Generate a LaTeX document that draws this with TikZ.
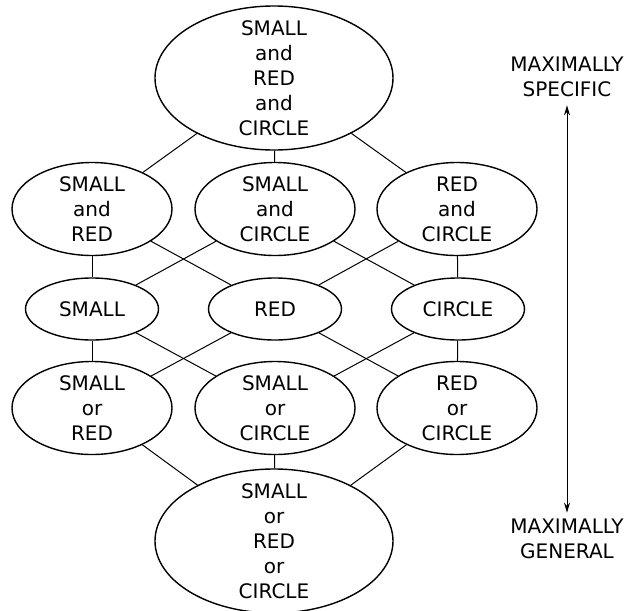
\documentclass[tikz,border=0pt]{standalone}
\usepackage{fontspec}
\setmainfont{DejaVu Sans}
\usetikzlibrary{shapes.geometric, arrows.meta}
\begin{document}
\begin{tikzpicture}[x=0.5pt, y=-0.5pt,
    every node/.style={font=\fontsize{10}{12.5}\selectfont, align=center},
    every label/.style={inner sep=0pt},
    blob/.style={ellipse, draw, line width=0.7pt, inner sep=0pt},
    bigblob/.style={blob, minimum width=119pt, minimum height=72pt},
    midblob/.style={blob, minimum width=80pt, minimum height=46.5pt},
    lowblob/.style={blob, minimum width=66.5pt, minimum height=31pt},
    link/.style={line width=0.5pt}]
    \useasboundingbox (0,0) rectangle (644,611);

    % Most specific
    \node[bigblob, label={center:SMALL\\and\\RED\\and\\CIRCLE}] (all) at (274,78) {};

    % Conjunctions
    \node[midblob, label={center:SMALL\\and\\RED}] (sr) at (92,209) {};
    \node[midblob, label={center:SMALL\\and\\CIRCLE}] (sc) at (275,209) {};
    \node[midblob, label={center:RED\\and\\CIRCLE}] (rc) at (457,209) {};

    % Single features
    \node[lowblob, label={center:SMALL}] (s) at (92,309) {};
    \node[lowblob, label={center:RED}] (r) at (275,309) {};
    \node[lowblob, label={center:CIRCLE}] (c) at (458,309) {};

    % Disjunctions
    \node[midblob, label={center:SMALL\\or\\RED}] (osr) at (92,408) {};
    \node[midblob, label={center:SMALL\\or\\CIRCLE}] (osc) at (275,408) {};
    \node[midblob, label={center:RED\\or\\CIRCLE}] (orc) at (457,408) {};

    % Most general
    \node[bigblob, label={center:SMALL\\or\\RED\\or\\CIRCLE}] (any) at (274,541) {};

    % Lattice lines
    \foreach \a/\b in {all/sr, all/sc, all/rc, sr/s, sr/r, sc/s, sc/c, rc/r, rc/c,
        s/osr, s/osc, r/osr, r/orc, c/osc, c/orc, osr/any, osc/any, orc/any}
        \draw[link] (\a) -- (\b);

    % Scale on the right
    \node[inner sep=0pt] (spec) at (567,77) {MAXIMALLY\\SPECIFIC};
    \node[inner sep=0pt] (gen) at (567,539) {MAXIMALLY\\GENERAL};
    \draw[link, {Stealth[length=5pt,width=3pt]}-{Stealth[length=5pt,width=3pt]}]
        ([yshift=-4pt]spec.south) -- ([yshift=3pt]gen.north);
\end{tikzpicture}
\end{document}
